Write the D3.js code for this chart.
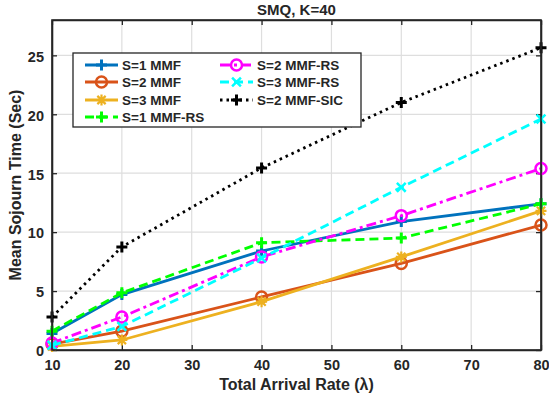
<html>
<head>
<script src="https://d3js.org/d3.v7.min.js"></script>
<style>
  body { margin: 0; background: #fff; }
  svg text { font-family: "Liberation Sans", Arial, sans-serif; font-weight: bold; fill: #262626; }
</style>
</head>
<body>
<script>
// data
var rates = [10, 20, 40, 60, 80];
var s1mmf   = [1.4, 4.7, 8.4, 10.9, 12.4];
var s2mmf   = [0.5, 1.6, 4.5, 7.35, 10.6];
var s3mmf   = [0.3, 0.85, 4.1, 7.9, 11.8];
var s1rs    = [1.6, 4.85, 9.1, 9.5, 12.4];
var s2rs    = [0.6, 2.8, 7.9, 11.4, 15.4];
var s3rs    = [0.4, 2.0, 7.8, 13.8, 19.6];
var s2sic   = [2.8, 8.75, 15.45, 21.0, 25.65];
var xTicks = [10, 20, 30, 40, 50, 60, 70, 80];
var yTicks = [0, 5, 10, 15, 20, 25];

var series = [
  {name: "S=1 MMF",     vals: s1mmf, color: "#0072BD", dash: null,    mk: "plus"},
  {name: "S=2 MMF",     vals: s2mmf, color: "#D95319", dash: null,    mk: "circle"},
  {name: "S=3 MMF",     vals: s3mmf, color: "#EDB120", dash: null,    mk: "star"},
  {name: "S=1 MMF-RS",  vals: s1rs,  color: "#00FF00", dash: "9,5",   mk: "plus"},
  {name: "S=2 MMF-RS",  vals: s2rs,  color: "#FF00FF", dash: "10,4,3,4", mk: "circle"},
  {name: "S=3 MMF-RS",  vals: s3rs,  color: "#00FFFF", dash: "9,5",   mk: "cross"},
  {name: "S=2 MMF-SIC", vals: s2sic, color: "#000000", dash: "2.5,4", mk: "plus"}
];

var W = 549, H = 398;
var pL = 52, pR = 541, pT = 20, pB = 350;

var x = d3.scaleLinear().domain([10, 80]).range([pL, pR]);
var y = d3.scaleLinear().domain([0, 28]).range([pB, pT]);

var svg = d3.select("body").append("svg").attr("width", W).attr("height", H);

// grid
svg.append("g").selectAll("line").data(xTicks).enter().append("line")
  .attr("x1", d => x(d)).attr("x2", d => x(d)).attr("y1", pT).attr("y2", pB)
  .attr("stroke", "#dedede").attr("stroke-width", 1.2);
svg.append("g").selectAll("line").data(yTicks).enter().append("line")
  .attr("x1", pL).attr("x2", pR).attr("y1", d => y(d)).attr("y2", d => y(d))
  .attr("stroke", "#dedede").attr("stroke-width", 1.2);

// axes with inward ticks
var xAxis = svg.append("g").attr("transform", "translate(0," + pB + ")")
  .call(d3.axisBottom(x).tickValues(xTicks).tickSizeInner(-5).tickSizeOuter(0).tickPadding(10));
var xTop = svg.append("g").attr("transform", "translate(0," + pT + ")")
  .call(d3.axisTop(x).tickValues(xTicks).tickSizeInner(-5).tickSizeOuter(0).tickFormat(""));
var yAxis = svg.append("g").attr("transform", "translate(" + pL + ",0)")
  .call(d3.axisLeft(y).tickValues(yTicks).tickSizeInner(-5).tickSizeOuter(0).tickPadding(8));
var yRight = svg.append("g").attr("transform", "translate(" + pR + ",0)")
  .call(d3.axisRight(y).tickValues(yTicks).tickSizeInner(-5).tickSizeOuter(0).tickFormat(""));
[xAxis, xTop, yAxis, yRight].forEach(function(g) {
  g.selectAll("path").attr("stroke", "#262626").attr("stroke-width", 1.6);
  g.selectAll("line").attr("stroke", "#262626").attr("stroke-width", 1.3);
  g.selectAll("text").style("font-size", "14.5px").style("font-family", "Liberation Sans, Arial, sans-serif")
    .style("font-weight", "bold").attr("fill", "#262626");
});
yAxis.selectAll("text").attr("dy", "0.4em");

function marker(g, type, cx, cy, color) {
  var r = 5.5;
  if (type === "plus") {
    g.append("path").attr("d", "M" + (cx - r) + "," + cy + "H" + (cx + r) + "M" + cx + "," + (cy - r) + "V" + (cy + r))
      .attr("stroke", color).attr("stroke-width", 3);
  } else if (type === "circle") {
    g.append("circle").attr("cx", cx).attr("cy", cy).attr("r", r).attr("fill", "none")
      .attr("stroke", color).attr("stroke-width", 2.5);
  } else if (type === "cross") {
    var k = r * 0.8;
    g.append("path").attr("d", "M" + (cx - k) + "," + (cy - k) + "L" + (cx + k) + "," + (cy + k) + "M" + (cx - k) + "," + (cy + k) + "L" + (cx + k) + "," + (cy - k))
      .attr("stroke", color).attr("stroke-width", 2.5);
  } else if (type === "star") {
    var k2 = r * 0.75;
    g.append("path").attr("d", "M" + (cx - r) + "," + cy + "H" + (cx + r) + "M" + cx + "," + (cy - r) + "V" + (cy + r) +
      "M" + (cx - k2) + "," + (cy - k2) + "L" + (cx + k2) + "," + (cy + k2) + "M" + (cx - k2) + "," + (cy + k2) + "L" + (cx + k2) + "," + (cy - k2))
      .attr("stroke", color).attr("stroke-width", 2.2);
  }
}

var line = d3.line().x((d, i) => x(rates[i])).y(d => y(d));
series.forEach(function(s) {
  var g = svg.append("g");
  g.append("path").datum(s.vals).attr("d", line).attr("fill", "none")
    .attr("stroke", s.color).attr("stroke-width", 2.8)
    .attr("stroke-dasharray", s.dash);
  s.vals.forEach(function(v, i) { marker(g, s.mk, x(rates[i]), y(v), s.color); });
});

// frame
svg.append("rect").attr("x", pL).attr("y", pT).attr("width", pR - pL).attr("height", pB - pT)
  .attr("fill", "none").attr("stroke", "#262626").attr("stroke-width", 1.6);

// legend
var leg = svg.append("g");
leg.append("rect").attr("x", 73).attr("y", 53).attr("width", 288).attr("height", 74)
  .attr("fill", "#fff").attr("stroke", "#262626").attr("stroke-width", 1.3);
var rowsY = [65, 82, 100, 117];
series.forEach(function(s, i) {
  var col = i < 4 ? 0 : 1;
  var row = i < 4 ? i : i - 4;
  var x0 = col === 0 ? 85 : 220;
  var yy = rowsY[row];
  leg.append("line").attr("x1", x0).attr("x2", x0 + 33).attr("y1", yy).attr("y2", yy)
    .attr("stroke", s.color).attr("stroke-width", 2.8).attr("stroke-dasharray", s.dash);
  marker(leg, s.mk, x0 + 16.5, yy, s.color);
  leg.append("text").attr("x", x0 + 37).attr("y", yy).attr("dy", "0.36em")
    .style("font-size", "13.5px").text(s.name);
});

// titles
svg.append("text").attr("x", (pL + pR) / 2).attr("y", 15).attr("text-anchor", "middle")
  .style("font-size", "15px").text("SMQ, K=40");
svg.append("text").attr("x", (pL + pR) / 2).attr("y", 390).attr("text-anchor", "middle")
  .style("font-size", "16px").text("Total Arrival Rate (\u03BB)");
svg.append("text").attr("transform", "translate(21," + ((pT + pB) / 2) + ") rotate(-90)")
  .attr("text-anchor", "middle").style("font-size", "16px").text("Mean Sojourn Time (Sec)");
</script>
</body>
</html>
